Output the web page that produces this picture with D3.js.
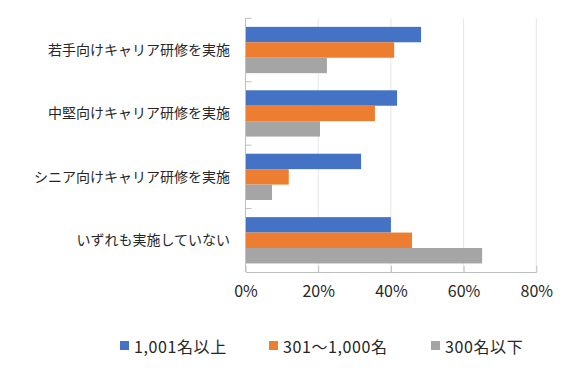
<!DOCTYPE html>
<html><head><meta charset="utf-8">
<script src="https://cdn.jsdelivr.net/npm/d3@7"></script>
<style>body{margin:0;background:#fff}</style>
</head><body>
<svg id="c" width="565" height="368"></svg>
<script>
const categories = ["若手向けキャリア研修を実施","中堅向けキャリア研修を実施","シニア向けキャリア研修を実施","いずれも実施していない"];
const seriesNames = ["1,001名以上","301～1,000名","300名以下"];
const seriesLarge = [48.3, 41.7, 31.8, 40.0];
const seriesMid = [40.9, 35.6, 11.9, 45.8];
const seriesSmall = [22.4, 20.5, 7.3, 65.1];
const xTicks = [0, 20, 40, 60, 80];
const colors = ["#4472C4","#ED7D31","#A5A5A5"];
const series = [seriesLarge, seriesMid, seriesSmall];

const font = "'Noto Sans CJK JP', 'Noto Sans', sans-serif";
const svg = d3.select("#c");
const L = 245.5, R = 536.3, T = 18.3, B = 272;
const x = d3.scaleLinear().domain([0, 80]).range([L, R]);
const y = d3.scaleBand().domain(categories).range([T, B]).paddingInner(0.27).paddingOuter(0.135);
const ys = d3.scaleBand().domain([0,1,2]).range([0, y.bandwidth()]);

// gridlines
svg.append("g").selectAll("line").data(xTicks.slice(1)).join("line")
  .attr("x1", d => x(d)).attr("x2", d => x(d)).attr("y1", T).attr("y2", B)
  .attr("stroke", "#e6e6e6").attr("stroke-width", 1);

// bars
categories.forEach((c, i) => {
  series.forEach((s, j) => {
    svg.append("rect")
      .attr("x", x(0)).attr("y", y(c) + ys(j))
      .attr("width", x(s[i]) - x(0)).attr("height", ys.bandwidth())
      .attr("fill", colors[j]);
  });
});

// bottom axis
const xa = svg.append("g").attr("transform", `translate(0,${B})`)
  .call(d3.axisBottom(x).tickValues(xTicks).tickFormat(d => d + "%").tickSizeInner(-6).tickSizeOuter(0).tickPadding(14));
xa.select(".domain").attr("stroke", "#bfbfbf");
xa.selectAll(".tick line").attr("stroke", "#bfbfbf");
xa.selectAll("text").attr("font-family", font).attr("font-size", 16).attr("fill", "#262626");

// left axis
svg.append("line").attr("x1", L).attr("x2", L).attr("y1", T).attr("y2", B).attr("stroke", "#bfbfbf");
const bounds = categories.map(c => y(c) - y.step() * y.paddingInner() / 2);
bounds[0] = T;
svg.append("g").selectAll("line").data(bounds).join("line")
  .attr("x1", L).attr("x2", L + 6).attr("y1", d => d).attr("y2", d => d).attr("stroke", "#bfbfbf");

svg.append("g").selectAll("text").data(categories).join("text")
  .attr("x", 230).attr("y", d => y(d) + y.bandwidth() / 2 - 1)
  .attr("text-anchor", "end").attr("dominant-baseline", "central")
  .attr("font-family", font).attr("font-size", 14).attr("fill", "#262626")
  .text(d => d);

// legend
const legX = [120, 269, 431];
const lg = svg.append("g");
seriesNames.forEach((n, i) => {
  lg.append("rect").attr("x", legX[i]).attr("y", 341).attr("width", 9).attr("height", 9).attr("fill", colors[i]);
  lg.append("text").attr("x", legX[i] + 14).attr("y", 345.5).attr("dominant-baseline", "central")
    .attr("font-family", font).attr("font-size", 16).attr("letter-spacing", "0.6px").attr("fill", "#262626").text(n);
});
</script>
</body></html>
